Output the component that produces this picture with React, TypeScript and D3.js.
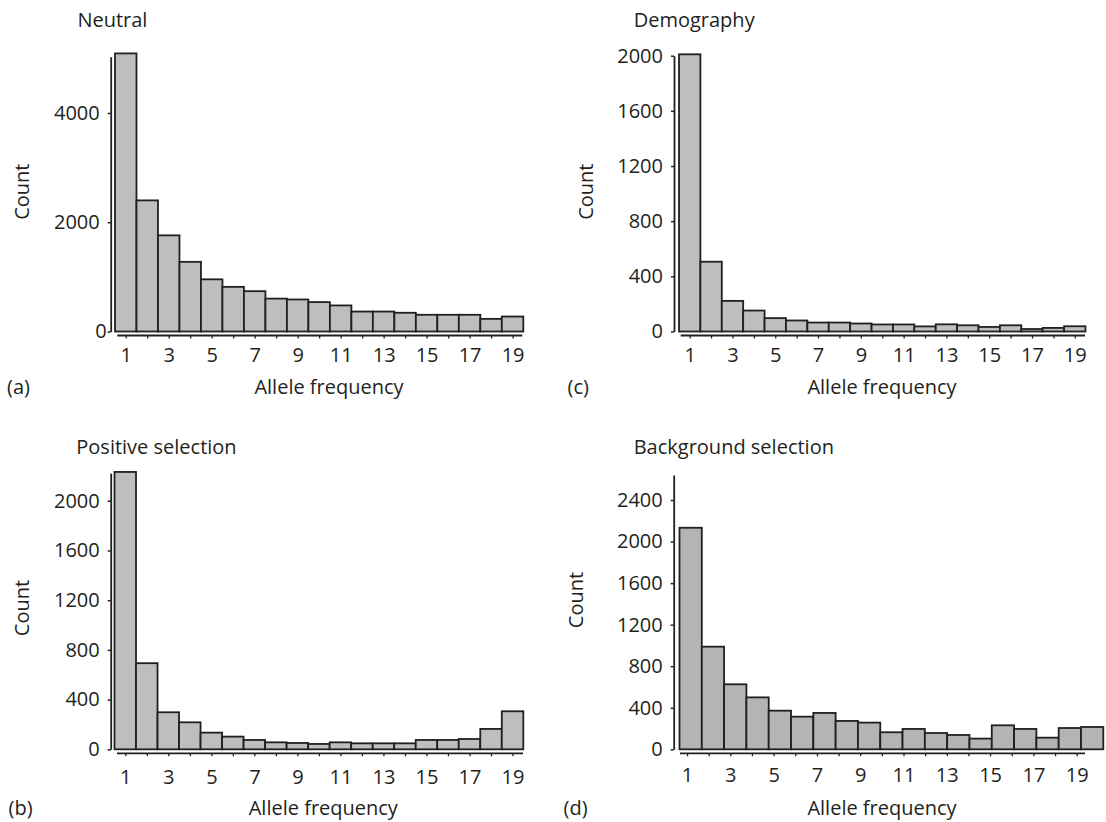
import React, { useEffect, useRef } from 'react';
import * as d3 from 'd3';

// allele frequency classes 1..19
const bins = d3.range(1, 20);

const neutralCounts = [5090, 2400, 1760, 1275, 955, 817, 738, 602, 586, 538, 477, 365, 365, 343, 306, 306, 306, 231, 274];
const demographyCounts = [2010, 506, 222, 152, 97, 80, 65, 65, 58, 51, 51, 37, 52, 45, 33, 45, 18, 26, 38];
const positiveCounts = [2232, 693, 298, 217, 134, 102, 75, 56, 51, 43, 56, 48, 48, 48, 75, 75, 83, 164, 306];
const backgroundCounts = [2133, 988, 626, 500, 372, 314, 350, 273, 257, 164, 196, 157, 138, 103, 231, 196, 112, 205, 215];

const neutralTicks = [0, 2000, 4000];
const demographyTicks = [0, 400, 800, 1200, 1600, 2000];
const positiveTicks = [0, 400, 800, 1200, 1600, 2000];
const backgroundTicks = [0, 400, 800, 1200, 1600, 2000, 2400];

const INK = '#231f20';
const FONT = '"Open Sans", sans-serif';

// layout of each small chart (pixel positions only)
const panels = [
  {
    title: 'Neutral', letter: '(a)', counts: neutralCounts, yTicks: neutralTicks, yMax: 5030,
    axisX: 110.7, base: 331.5, top: 56.7, barL: 115, barR: 523.3, tick1: 125.7, tick19: 512.6,
    lineL: 117.3, lineR: 522.3, fill: '#bdbec0',
    titleX: 77.4, titleY: 19.7, countX: 22.4, countY: 191.7, letterX: 7, footY: 386.7, freqX: 329,
    tickLabelY: 355, zeroDx: 7,
  },
  {
    title: 'Demography', letter: '(c)', counts: demographyCounts, yTicks: demographyTicks, yMax: 2000,
    axisX: 674, base: 331.5, top: 55.7, barL: 679, barR: 1085.5, tick1: 689.7, tick19: 1074.8,
    lineL: 680.7, lineR: 1085, fill: '#bdbec0',
    titleX: 633.7, titleY: 20, countX: 586, countY: 191.7, letterX: 567.6, footY: 386.7, freqX: 882,
    tickLabelY: 355, zeroDx: 0,
  },
  {
    title: 'Positive selection', letter: '(b)', counts: positiveCounts, yTicks: positiveTicks, yMax: 2221,
    axisX: 110.7, base: 749.3, top: 473.3, barL: 114.5, barR: 523.3, tick1: 125.3, tick19: 512.5,
    lineL: 117, lineR: 523, fill: '#bdbec0',
    titleX: 76.3, titleY: 446.7, countX: 22.4, countY: 608, letterX: 8.6, footY: 808, freqX: 323.3,
    tickLabelY: 776.7, zeroDx: 0,
  },
  {
    title: 'Background selection', letter: '(d)', counts: backgroundCounts, yTicks: backgroundTicks, yMax: 2641,
    axisX: 673.7, base: 749.3, top: 475, barL: 679.5, barR: 1103.3, tick1: 687, tick19: 1076.7,
    lineL: 680, lineR: 1085, fill: '#b4b4b4',
    titleX: 633.7, titleY: 446.7, countX: 575.6, countY: 600, letterX: 563.5, footY: 808, freqX: 882,
    tickLabelY: 775, zeroDx: 0,
  },
];

const App = () => {
  const ref = useRef<SVGSVGElement>(null);

  useEffect(() => {
    const svg = d3.select(ref.current);
    svg.selectAll('*').remove();

    panels.forEach((p) => {
      const g = svg.append('g');
      const x = d3.scaleBand<number>().domain(bins).range([p.barL, p.barR]).padding(0);
      const xt = d3.scaleLinear().domain([1, 19]).range([p.tick1, p.tick19]);
      const y = d3.scaleLinear().domain([0, p.yMax]).range([p.base, p.top]);

      // bars
      g.selectAll('.bar')
        .data(p.counts)
        .enter()
        .append('rect')
        .attr('x', (d, i) => x(bins[i]) as number)
        .attr('y', (d) => y(d))
        .attr('width', x.bandwidth())
        .attr('height', (d) => p.base - y(d))
        .attr('fill', p.fill)
        .attr('stroke', INK)
        .attr('stroke-width', 1.8);

      // y axis
      const ya = g
        .append('g')
        .attr('transform', `translate(${p.axisX},0)`)
        .call(d3.axisLeft(y).tickValues(p.yTicks).tickSize(3).tickSizeOuter(0).tickPadding(8).tickFormat(d3.format('d')));
      ya.select('.domain').attr('stroke', INK).attr('stroke-width', 1.8);
      ya.selectAll('.tick line').attr('stroke', INK).attr('stroke-width', 1.5);
      ya.selectAll('.tick text')
        .attr('fill', INK)
        .style('font-family', FONT)
        .style('font-size', '20px')
        .attr('dx', (d) => (d === 0 ? p.zeroDx : 0));

      // x axis, drawn a little below the bars
      const lineY = p.base + 4;
      const xa = g
        .append('g')
        .attr('transform', `translate(0,${lineY})`)
        .call(
          d3.axisBottom(xt).tickValues(bins).tickSize(3).tickSizeOuter(0)
            .tickFormat((d) => ((d as number) % 2 === 1 ? String(d) : ''))
        );
      xa.select('.domain').remove();
      xa.append('line')
        .attr('x1', p.lineL)
        .attr('x2', p.lineR)
        .attr('stroke', INK)
        .attr('stroke-width', 1.8);
      xa.selectAll('.tick line').attr('stroke', INK).attr('stroke-width', 1.3);
      xa.selectAll('.tick text')
        .attr('y', p.tickLabelY - lineY)
        .attr('dy', '0.35em')
        .attr('fill', INK)
        .style('font-family', FONT)
        .style('font-size', '20px');

      const txt = (s: string, tx: number, ty: number, anchor: string) =>
        g.append('text')
          .attr('x', tx)
          .attr('y', ty)
          .attr('dy', '0.35em')
          .attr('text-anchor', anchor)
          .attr('fill', INK)
          .style('font-family', FONT)
          .style('font-size', '20px')
          .text(s);

      txt(p.title, p.titleX, p.titleY, 'start');
      txt(p.letter, p.letterX, p.footY, 'start');
      txt('Allele frequency', p.freqX, p.footY, 'middle');
      txt('Count', 0, 0, 'middle').attr('transform', `translate(${p.countX},${p.countY}) rotate(-90)`);
    });
  }, []);

  return (
    <div style={{ position: 'absolute', left: 0, top: 0, background: '#fff' }}>
      <svg ref={ref} width={1106} height={822}></svg>
    </div>
  );
};

export default App;
